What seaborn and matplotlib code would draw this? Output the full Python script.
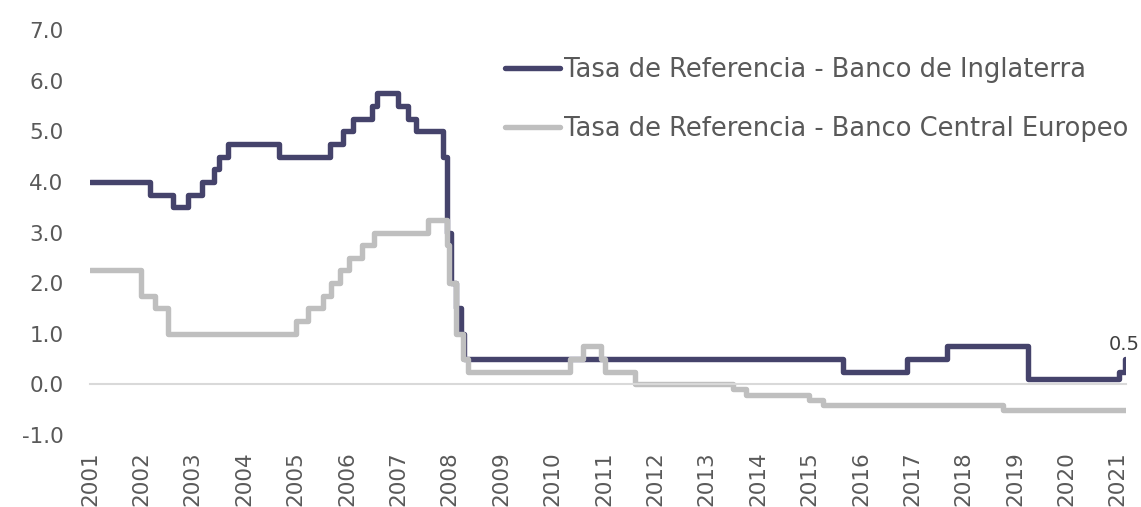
import matplotlib
matplotlib.use("Agg")
import matplotlib.pyplot as plt
import seaborn as sns
import pandas as pd

# step change points (position on the chart's year axis) and rates
boe_x = [2001.0, 2002.17, 2002.61, 2002.91, 2003.17, 2003.42, 2003.5, 2003.69, 2004.68,
         2005.66, 2005.93, 2006.11, 2006.48, 2006.58, 2007.0, 2007.19, 2007.35, 2007.86,
         2007.94, 2008.02, 2008.12, 2008.21, 2008.27, 2015.65, 2016.9, 2017.67, 2019.26,
         2021.02, 2021.13]
boe_y = [4.0, 3.75, 3.5, 3.75, 4.0, 4.25, 4.5, 4.75, 4.5,
         4.75, 5.0, 5.25, 5.5, 5.75, 5.5, 5.25, 5.0, 4.5,
         3.0, 2.0, 1.5, 1.0, 0.5, 0.25, 0.5, 0.75, 0.1,
         0.25, 0.5]

ecb_x = [2001.0, 2002.0, 2002.26, 2002.52, 2005.0, 2005.25, 2005.54, 2005.69, 2005.86,
         2006.03, 2006.29, 2006.52, 2007.58, 2007.94, 2007.99, 2008.13, 2008.26, 2008.35,
         2010.34, 2010.6, 2010.95, 2011.03, 2011.6, 2013.51, 2013.77, 2015.0, 2015.27,
         2018.77, 2021.15]
ecb_y = [2.25, 1.75, 1.5, 1.0, 1.25, 1.5, 1.75, 2.0, 2.25,
         2.5, 2.75, 3.0, 3.25, 2.75, 2.0, 1.0, 0.5, 0.25,
         0.5, 0.75, 0.5, 0.25, 0.0, -0.1, -0.2, -0.3, -0.4,
         -0.5, -0.5]

years = list(range(2001, 2022))
yticks = [-1, 0, 1, 2, 3, 4, 5, 6, 7]
label_boe = "Tasa de Referencia - Banco de Inglaterra"
label_ecb = "Tasa de Referencia - Banco Central Europeo"

sns.set_style("white")
plt.rcParams['font.family'] = ['DejaVu Sans']

boe = pd.DataFrame({"x": boe_x, "y": boe_y})
ecb = pd.DataFrame({"x": ecb_x, "y": ecb_y})

fig = plt.figure(figsize=(11.41, 5.07), dpi=100)
ax = fig.add_axes([0.0789, 0.142, 0.908, 0.7988])

lw = 3.9
sns.lineplot(data=boe, x="x", y="y", ax=ax, color="#45436B", linewidth=lw,
             drawstyle="steps-post", label=label_boe, sort=False)
sns.lineplot(data=ecb, x="x", y="y", ax=ax, color="#BFBFBF", linewidth=lw,
             drawstyle="steps-post", label=label_ecb, sort=False)

ax.annotate("0.5", (boe_x[-1], boe_y[-1]), xytext=(0, 4), textcoords="offset points",
            ha="center", va="bottom", fontsize=14, color="#404040")

ax.set_xlim(2001, 2021.16)
ax.set_ylim(-1, 7)
ax.set_xticks(years)
ax.set_xticklabels([str(y) for y in years])
ax.set_yticks(yticks)
ax.set_yticklabels([f"{v:.1f}" for v in yticks])
ax.set_xlabel("")
ax.set_ylabel("")

for s in ["left", "top", "right"]:
    ax.spines[s].set_visible(False)
ax.spines["bottom"].set_position(("data", 0))
ax.spines["bottom"].set_color("#D9D9D9")
ax.spines["bottom"].set_linewidth(1.5)

ax.tick_params(axis="x", direction="out", length=6.3, width=1.3, color="#D9D9D9",
               pad=42, labelsize=15.5, labelcolor="#595959", labelrotation=90)
ax.tick_params(axis="y", length=0, pad=19, labelsize=15.5, labelcolor="#595959")

leg = ax.legend(loc="upper left", bbox_to_anchor=(0.4332, 0.907), bbox_transform=fig.transFigure,
                frameon=False, fontsize=18.5, handlelength=2.14, handletextpad=0.16,
                labelspacing=1.28, borderaxespad=0)
for t in leg.get_texts():
    t.set_color("#595959")
for h in leg.get_lines():
    h.set_linewidth(lw)

fig.savefig("out.png", dpi=100)
